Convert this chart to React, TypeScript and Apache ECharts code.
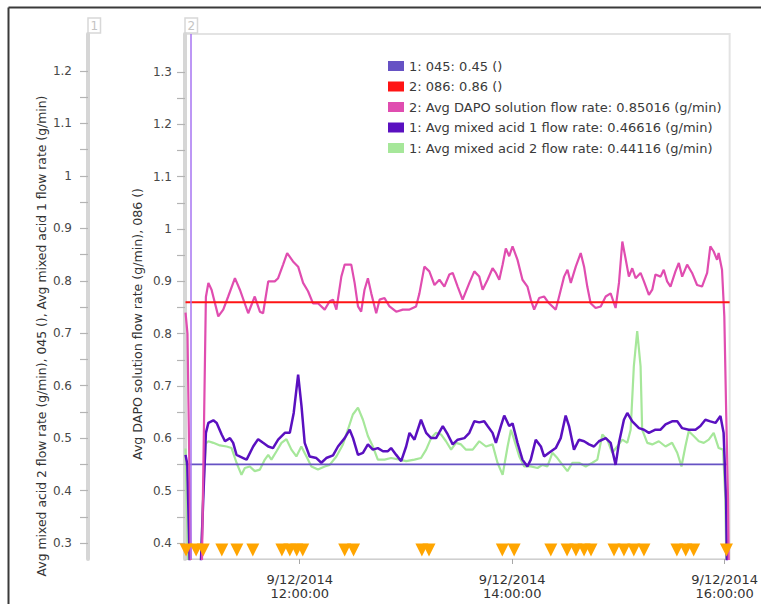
import { useEffect, useRef } from "react";
import * as echarts from "echarts";

// ---------- data (times in minutes after midnight, 9/12/2014) ----------
const xLabelTimes = [720, 840, 960];
const axis1TickValues = [0.3, 0.35, 0.4, 0.45, 0.5, 0.55, 0.6, 0.65, 0.7, 0.75, 0.8, 0.85, 0.9, 0.95, 1, 1.05, 1.1, 1.15, 1.2];
const axis1LabelValues = [0.3, 0.4, 0.5, 0.6, 0.7, 0.8, 0.9, 1, 1.1, 1.2];
const axis2TickValues = [0.4, 0.45, 0.5, 0.55, 0.6, 0.65, 0.7, 0.75, 0.8, 0.85, 0.9, 0.95, 1, 1.05, 1.1, 1.15, 1.2, 1.25, 1.3];
const axis2LabelValues = [0.4, 0.5, 0.6, 0.7, 0.8, 0.9, 1, 1.1, 1.2, 1.3];

const seriesNames = [
  "1: 045: 0.45 ()",
  "2: 086: 0.86 ()",
  "2: Avg DAPO solution flow rate: 0.85016 (g/min)",
  "1: Avg mixed acid 1 flow rate: 0.46616 (g/min)",
  "1: Avg mixed acid 2 flow rate: 0.44116 (g/min)",
];

const limit045Times = [655.5, 961.5];
const limit045Values = [0.45, 0.45];
const limit086Times = [655.5, 962.8];
const limit086Values = [0.86, 0.86];
const cursorTime = 658.3;

const dapoTimes = [
  655.5, 656.6, 658.7, 664.5, 667.0, 668.4, 670.2, 674.0, 676.8, 679.6, 683.4, 686.2, 690.9, 694.6, 697.5, 699.3,
  702.2, 705.9, 707.8, 710.6, 712.9, 716.2, 719.1, 721.9, 724.7, 727.5, 730.3, 734.1, 736.9, 738.8, 740.7, 743.5,
  745.4, 749.1, 751.0, 752.9, 754.7, 756.6, 758.5, 760.4, 763.2, 765.1, 767.9, 770.7, 774.5, 778.2, 782.0, 785.7,
  787.6, 790.4, 793.2, 796.1, 798.9, 801.7, 804.5, 806.4, 809.2, 812.0, 815.8, 818.6, 821.4, 823.3, 826.1, 828.9,
  830.8, 832.7, 834.6, 836.4, 838.3, 840.2, 843.0, 845.8, 848.6, 850.5, 852.4, 855.2, 858.0, 860.8, 864.6, 866.5,
  869.3, 871.2, 873.1, 875.9, 878.7, 880.6, 882.4, 884.3, 887.1, 890.0, 892.8, 895.6, 898.4, 900.3, 902.2, 904.0,
  905.9, 907.8, 909.7, 912.5, 914.4, 917.2, 919.1, 920.9, 923.8, 925.6, 927.5, 929.4, 932.2, 934.1, 936.0, 938.8,
  941.6, 944.4, 947.2, 950.1, 951.9, 953.8, 955.7, 956.6, 958.5, 959.8, 960.9, 961.9, 962.5,
];
const dapoValues = [
  0.84, 0.80, 0.30, 0.30, 0.87, 0.897, 0.884, 0.833, 0.846, 0.871, 0.906, 0.884, 0.839, 0.871, 0.842, 0.839,
  0.900, 0.900, 0.906, 0.932, 0.954, 0.938, 0.928, 0.897, 0.881, 0.858, 0.858, 0.846, 0.862, 0.865, 0.846, 0.909,
  0.932, 0.932, 0.897, 0.852, 0.842, 0.884, 0.906, 0.877, 0.839, 0.865, 0.868, 0.852, 0.842, 0.846, 0.846, 0.852,
  0.877, 0.928, 0.919, 0.893, 0.903, 0.890, 0.913, 0.916, 0.890, 0.865, 0.897, 0.919, 0.909, 0.884, 0.903, 0.925,
  0.916, 0.903, 0.932, 0.963, 0.948, 0.967, 0.941, 0.903, 0.890, 0.865, 0.846, 0.868, 0.871, 0.858, 0.846, 0.871,
  0.909, 0.922, 0.897, 0.928, 0.954, 0.928, 0.890, 0.858, 0.849, 0.852, 0.871, 0.877, 0.849, 0.897, 0.976, 0.944,
  0.909, 0.925, 0.906, 0.916, 0.900, 0.874, 0.884, 0.913, 0.909, 0.922, 0.900, 0.890, 0.919, 0.935, 0.909, 0.932,
  0.916, 0.893, 0.890, 0.916, 0.967, 0.957, 0.941, 0.954, 0.922, 0.833, 0.642, 0.482, 0.30,
];

const acid1Times = [
  655.5, 656.5, 658.3, 663.5, 665.5, 667.0, 668.4, 671.2, 673.1, 675.9, 677.8, 680.6, 682.4, 684.3, 688.1, 690.0,
  693.7, 696.5, 699.3, 702.2, 704.9, 707.8, 711.6, 714.4, 716.6, 719.1, 721.0, 722.8, 725.6, 729.4, 732.2, 735.0,
  738.8, 741.6, 745.4, 748.2, 750.1, 752.9, 755.7, 758.5, 761.3, 764.1, 767.0, 769.8, 771.6, 774.5, 777.3, 780.1,
  782.0, 784.8, 788.5, 791.4, 794.2, 797.0, 800.8, 803.6, 806.4, 809.2, 813.0, 815.8, 818.6, 821.4, 824.2, 826.1,
  828.9, 830.8, 833.6, 835.5, 838.3, 840.2, 843.0, 845.8, 848.6, 850.5, 853.3, 856.2, 858.0, 860.8, 864.6, 867.4,
  870.2, 872.1, 874.9, 877.7, 880.6, 883.4, 886.2, 889.0, 892.8, 895.6, 898.4, 900.3, 903.1, 905.0, 907.8, 911.6,
  914.4, 917.2, 920.9, 923.8, 926.6, 930.3, 933.2, 936.0, 939.7, 943.5, 946.3, 949.1, 951.9, 954.8, 957.6, 959.4,
  960.8, 961.5,
];
const acid1Values = [
  0.468, 0.45, 0.20, 0.20, 0.383, 0.510, 0.529, 0.534, 0.529, 0.507, 0.494, 0.500, 0.491, 0.468, 0.462, 0.459,
  0.484, 0.498, 0.491, 0.484, 0.481, 0.497, 0.510, 0.510, 0.548, 0.621, 0.561, 0.491, 0.465, 0.462, 0.453, 0.462,
  0.467, 0.484, 0.500, 0.516, 0.500, 0.468, 0.472, 0.488, 0.478, 0.481, 0.475, 0.475, 0.481, 0.468, 0.456, 0.484,
  0.510, 0.497, 0.535, 0.510, 0.500, 0.500, 0.523, 0.507, 0.488, 0.497, 0.500, 0.510, 0.532, 0.530, 0.532, 0.523,
  0.510, 0.491, 0.523, 0.543, 0.523, 0.528, 0.491, 0.459, 0.446, 0.459, 0.497, 0.484, 0.465, 0.472, 0.481, 0.500,
  0.543, 0.523, 0.478, 0.497, 0.494, 0.488, 0.484, 0.494, 0.500, 0.491, 0.449, 0.491, 0.535, 0.548, 0.532, 0.519,
  0.516, 0.510, 0.516, 0.516, 0.526, 0.532, 0.532, 0.519, 0.516, 0.516, 0.523, 0.535, 0.532, 0.529, 0.542, 0.510,
  0.383, 0.20,
];

const acid2Times = [
  655.5, 657.3, 663.5, 665.5, 667.0, 668.4, 671.2, 674.9, 678.7, 681.5, 684.3, 687.1, 689.0, 691.8, 694.6, 697.5,
  700.3, 702.2, 704.0, 706.9, 709.7, 712.5, 715.3, 718.1, 720.9, 723.8, 726.6, 730.3, 734.1, 736.9, 740.7, 744.4,
  747.2, 750.0, 752.9, 755.7, 758.5, 761.3, 764.1, 767.9, 771.6, 776.4, 780.1, 784.8, 788.5, 791.4, 794.2, 797.0,
  799.8, 802.6, 805.5, 808.3, 811.1, 813.9, 817.7, 821.4, 825.2, 828.9, 831.7, 834.6, 837.4, 839.3, 841.1, 844.0,
  846.8, 850.5, 854.3, 857.1, 859.9, 862.7, 865.5, 868.4, 871.2, 874.0, 877.7, 881.5, 885.3, 888.1, 890.9, 893.7,
  896.5, 899.3, 902.2, 905.0, 906.9, 908.7, 910.6, 912.5, 913.4, 916.3, 919.1, 922.8, 926.6, 930.3, 933.2, 935.6,
  937.8, 939.7, 942.5, 945.4, 948.2, 951.0, 953.8, 956.6, 959.1, 960.4, 961.2,
];
const acid2Values = [
  0.48, 0.20, 0.20, 0.40, 0.49, 0.494, 0.491, 0.486, 0.484, 0.481, 0.453, 0.430, 0.443, 0.446, 0.437, 0.440,
  0.459, 0.468, 0.459, 0.475, 0.491, 0.498, 0.478, 0.465, 0.484, 0.465, 0.446, 0.440, 0.446, 0.449, 0.465, 0.488,
  0.516, 0.545, 0.558, 0.535, 0.504, 0.484, 0.459, 0.459, 0.462, 0.459, 0.456, 0.459, 0.462, 0.478, 0.500, 0.510,
  0.507, 0.494, 0.478, 0.491, 0.488, 0.478, 0.478, 0.494, 0.484, 0.488, 0.453, 0.430, 0.484, 0.516, 0.497, 0.465,
  0.446, 0.446, 0.443, 0.449, 0.446, 0.472, 0.462, 0.449, 0.437, 0.453, 0.453, 0.446, 0.453, 0.459, 0.507, 0.497,
  0.472, 0.484, 0.497, 0.491, 0.516, 0.637, 0.704, 0.637, 0.516, 0.491, 0.488, 0.494, 0.484, 0.491, 0.472, 0.446,
  0.484, 0.513, 0.504, 0.494, 0.491, 0.497, 0.510, 0.481, 0.478, 0.383, 0.20,
];

const eventTimes = [
  655.8, 661.5, 665.5, 676, 684.5, 693.5, 709.9, 714.4, 718.3, 721.7, 745.4, 750.4, 789, 793, 834.4, 841.1,
  861.8, 871, 876, 880.6, 884.5, 897.5, 903.1, 908.7, 914.4, 933, 938, 942.5, 961,
];
const eventLevel = 0.3866;

const FONT = "DejaVu Sans";

export default function App() {
  const ref = useRef<HTMLDivElement>(null);

  useEffect(() => {
    if (!ref.current) return;
    const chart = echarts.init(ref.current, undefined, { renderer: "svg" });
    const pair = (ts: number[], vs: number[]) => ts.map((t, i) => [t, vs[i]]);
    const fmtNum = (v: number) => String(Math.round(v * 100) / 100);
    const fmtTime = (v: number) => {
      const h = Math.floor(v / 60);
      const m = Math.round(v - h * 60);
      return `9/12/2014\n${h}:${String(m).padStart(2, "0")}:00`;
    };

    const yAxisCommon = {
      type: "value",
      position: "left",
      splitLine: { show: false },
      axisLine: { show: true, lineStyle: { color: "#d6d6d6", width: 4 } },
      axisTick: { show: true, length: 8, lineStyle: { color: "#b4b4b4", width: 1.2 } },
    };

    const option = {
      animation: false,
      backgroundColor: "#ffffff",
      grid: {
        left: 185,
        right: 30,
        top: 34,
        bottom: 45,
        show: true,
        borderColor: "#e3e3e3",
        borderWidth: 2,
        backgroundColor: "transparent",
      },
      legend: {
        data: seriesNames,
        orient: "vertical",
        left: 383,
        top: 54,
        icon: "rect",
        itemWidth: 16,
        itemHeight: 10,
        itemGap: 6.5,
        selectedMode: false,
        textStyle: { fontFamily: FONT, fontSize: 13, color: "#3a3a3a", lineHeight: 14 },
      },
      xAxis: {
        type: "value",
        min: 655.2,
        max: 962.8,
        splitLine: { show: false },
        axisLine: { show: true, lineStyle: { color: "#cfcfcf", width: 1 } },
        axisTick: { show: true, length: 5, customValues: xLabelTimes, lineStyle: { color: "#a8a8a8" } },
        axisLabel: {
          customValues: xLabelTimes,
          formatter: fmtTime,
          margin: 13,
          fontFamily: FONT,
          fontSize: 13,
          lineHeight: 14,
          color: "#333",
        },
      },
      yAxis: [
        {
          ...yAxisCommon,
          min: 0.3694,
          max: 1.3726,
          offset: 0,
          axisTick: { ...yAxisCommon.axisTick, customValues: axis2TickValues },
          axisLabel: {
            customValues: axis2LabelValues,
            formatter: fmtNum,
            margin: 13,
            fontFamily: FONT,
            fontSize: 12,
            color: "#484848",
          },
        },
        {
          ...yAxisCommon,
          min: 0.2695,
          max: 1.2705,
          offset: 97,
          axisTick: { ...yAxisCommon.axisTick, customValues: axis1TickValues },
          axisLabel: {
            customValues: axis1LabelValues,
            formatter: fmtNum,
            margin: 16,
            fontFamily: FONT,
            fontSize: 12,
            color: "#484848",
          },
        },
      ],
      series: [
        {
          name: seriesNames[4],
          type: "line",
          yAxisIndex: 1,
          showSymbol: false,
          data: pair(acid2Times, acid2Values),
          itemStyle: { color: "#a6e79a" },
          lineStyle: { color: "#a6e79a", width: 2.2 },
        },
        {
          name: seriesNames[0],
          type: "line",
          yAxisIndex: 1,
          showSymbol: false,
          data: pair(limit045Times, limit045Values),
          itemStyle: { color: "#6652c4" },
          lineStyle: { color: "#6652c4", width: 1.6 },
          markLine: {
            silent: true,
            symbol: "none",
            label: { show: false },
            lineStyle: { color: "#a774f2", width: 1.5, type: "solid" },
            data: [{ xAxis: cursorTime }],
          },
        },
        {
          name: seriesNames[3],
          type: "line",
          yAxisIndex: 1,
          showSymbol: false,
          data: pair(acid1Times, acid1Values),
          itemStyle: { color: "#5a10c0" },
          lineStyle: { color: "#5a10c0", width: 2.5 },
        },
        {
          name: seriesNames[2],
          type: "line",
          yAxisIndex: 0,
          showSymbol: false,
          data: pair(dapoTimes, dapoValues),
          itemStyle: { color: "#e04db0" },
          lineStyle: { color: "#e04db0", width: 2.2 },
        },
        {
          name: seriesNames[1],
          type: "line",
          yAxisIndex: 0,
          showSymbol: false,
          data: pair(limit086Times, limit086Values),
          itemStyle: { color: "#ff1414" },
          lineStyle: { color: "#ff1414", width: 2.2 },
        },
        {
          name: "events",
          type: "scatter",
          yAxisIndex: 0,
          symbol: "triangle",
          symbolRotate: 180,
          symbolSize: [13, 13],
          itemStyle: { color: "#ffa500", opacity: 1 },
          data: eventTimes.map((t) => [t, eventLevel]),
          z: 5,
        },
      ],
      graphic: [
        { type: "line", shape: { x1: 8.5, y1: 7.5, x2: 761, y2: 7.5 }, style: { stroke: "#3a3a3a", lineWidth: 2 } },
        { type: "line", shape: { x1: 8.5, y1: 7.5, x2: 8.5, y2: 604 }, style: { stroke: "#3a3a3a", lineWidth: 2 } },
        { type: "rect", shape: { x: 88, y: 18, width: 12.5, height: 15 }, style: { fill: "#fff", stroke: "#d8d8d8", lineWidth: 1.5 } },
        { type: "text", x: 94.2, y: 26, style: { text: "1", fontFamily: FONT, fontSize: 12, fill: "#c4c4c4", align: "center", verticalAlign: "middle" } },
        { type: "rect", shape: { x: 185, y: 18, width: 12.5, height: 15 }, style: { fill: "#fff", stroke: "#d8d8d8", lineWidth: 1.5 } },
        { type: "text", x: 191.2, y: 26, style: { text: "2", fontFamily: FONT, fontSize: 12, fill: "#c4c4c4", align: "center", verticalAlign: "middle" } },
        {
          type: "text",
          x: 41,
          y: 336,
          rotation: Math.PI / 2,
          style: {
            text: "Avg mixed acid 2 flow rate (g/min), 045 (), Avg mixed acid 1 flow rate (g/min)",
            fontFamily: FONT,
            fontSize: 12.4,
            fill: "#333",
            align: "center",
            verticalAlign: "middle",
          },
        },
        {
          type: "text",
          x: 137.5,
          y: 324,
          rotation: Math.PI / 2,
          style: {
            text: "Avg DAPO solution flow rate (g/min), 086 ()",
            fontFamily: FONT,
            fontSize: 12.6,
            fill: "#333",
            align: "center",
            verticalAlign: "middle",
          },
        },
      ],
    };

    chart.setOption(option as any);
    return () => chart.dispose();
  }, []);

  return (
    <div
      ref={ref}
      style={{ position: "fixed", left: 0, top: 0, width: 761, height: 604, background: "#fff" }}
    />
  );
}
